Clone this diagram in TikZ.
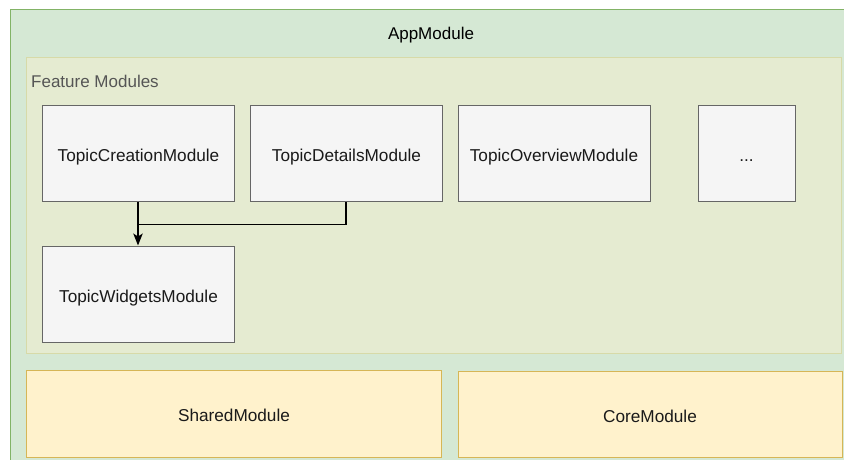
\documentclass[tikz,border=0pt]{standalone}
\usepackage{fontspec}
\setmainfont{Liberation Sans}
\usetikzlibrary{arrows.meta}
\definecolor{appfill}{HTML}{D5E8D4}
\definecolor{appdraw}{HTML}{82B366}
\definecolor{featfill}{HTML}{E5EBD1}
\definecolor{featdraw}{HTML}{D7DAA8}
\definecolor{boxfill}{HTML}{F5F5F5}
\definecolor{boxdraw}{HTML}{666666}
\definecolor{yfill}{HTML}{FFF2CC}
\definecolor{ydraw}{HTML}{D6B656}
\definecolor{txt}{HTML}{1A1A1A}
\definecolor{graytxt}{HTML}{555555}
\tikzset{
  region/.style={draw=#1, line width=1pt},
  modbox/.style={draw=boxdraw, fill=boxfill, line width=1pt, text=txt, font=\fontsize{17.2}{20}\selectfont, text height=16pt, text depth=0pt},
  ybox/.style={draw=ydraw, fill=yfill, line width=1pt, text=txt, font=\fontsize{17.2}{20}\selectfont, text height=16pt, text depth=0pt},
  lbl/.style={font=\fontsize{17}{20}\selectfont, inner sep=0pt, text height=12.2pt, text depth=0pt},
  conn/.style={line width=1.3pt, -{Stealth[length=12pt,width=9.5pt,inset=3pt]}},
  connplain/.style={line width=1.3pt}
}
\begin{document}
\begin{tikzpicture}[x=1pt,y=-1pt]
\useasboundingbox (0,0) rectangle (844,459);
\clip (0,0) rectangle (844,459);
\fill[white] (0,0) rectangle (844,459);
% AppModule
\draw[region=appdraw, fill=appfill] (10,9.5) rectangle (860,480);
\node[lbl, text=black] (app) at (431,33) {AppModule};
% Feature modules
\draw[region=featdraw, fill=featfill] (26,57.5) rectangle (841.5,353);
\node[lbl, text=graytxt, anchor=west] (feat) at (31,81.2) {Feature Modules};
% module boxes
\node[modbox, minimum width=192pt, minimum height=96pt, anchor=north west] (create) at (42,105) {TopicCreationModule};
\node[modbox, minimum width=192pt, minimum height=96pt, anchor=north west] (details) at (250,105) {TopicDetailsModule};
\node[modbox, minimum width=192pt, minimum height=96pt, anchor=north west] (overview) at (457.5,105) {TopicOverviewModule};
\node[modbox, minimum width=97pt, minimum height=96pt, anchor=north west] (more) at (697.5,105) {...};
\node[modbox, minimum width=192pt, minimum height=96pt, anchor=north west] (widgets) at (42,245.5) {TopicWidgetsModule};
% shared / core
\node[ybox, minimum width=415pt, minimum height=87.5pt, anchor=north west] (shared) at (26,369.5) {SharedModule};
\node[ybox, minimum width=384pt, minimum height=86pt, anchor=north west] (core) at (457.5,371) {CoreModule};
% connectors
\coordinate (join) at (138,224.5);
\draw[conn] (create.south -| join) -- (widgets.north -| join);
\draw[connplain] (details.south -| 346,0) -- (346,224.5) -- (join);
\end{tikzpicture}
\end{document}
